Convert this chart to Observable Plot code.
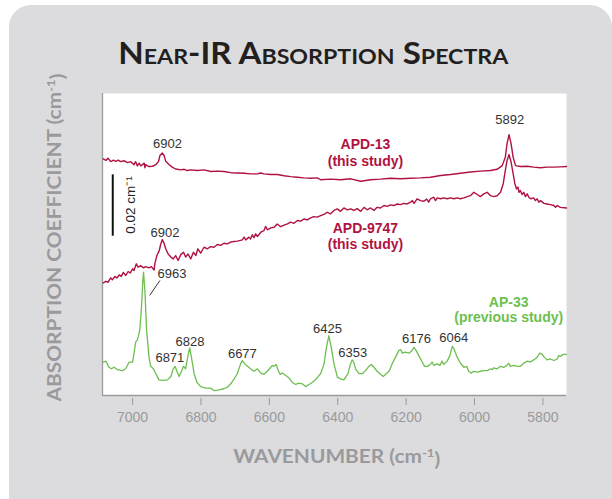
<!DOCTYPE html>
<html>
<head>
<meta charset="utf-8">
<script src="https://cdn.jsdelivr.net/npm/d3@7"></script>
<script src="https://cdn.jsdelivr.net/npm/@observablehq/plot@0.6"></script>
<style>
  html, body { margin: 0; padding: 0; background: #ffffff; }
  #wrap { position: relative; width: 612px; height: 499px; overflow: hidden; background: #ffffff; }
  #card { position: absolute; left: 9px; top: 5px; width: 603px; height: 560px; background: #dcdcde; border-radius: 22px; }
  #chart { position: absolute; left: 0; top: 0; }
</style>
</head>
<body>
<div id="wrap">
  <div id="card"></div>
  <div id="chart"></div>
</div>
<script>
// ---- data (wavenumber in cm^-1, absorption coefficient in cm^-1, spectra offset vertically) ----
const xTicks = [7000, 6800, 6600, 6400, 6200, 6000, 5800];

const apd13 = [
  [7086,0.0771],[7078,0.0766],[7072,0.0773],[7064,0.0762],[7056,0.0767],[7049,0.0763],[7042,0.0767],
  [7035,0.0762],[7025,0.0765],[7015,0.0759],[7005,0.0762],[6996,0.0752],[6991,0.0762],[6986,0.0748],
  [6981,0.0757],[6976,0.0748],[6966,0.0757],[6964,0.0742],[6962,0.0752],[6952,0.0746],[6942,0.0747],
  [6932,0.0752],[6924,0.0763],[6920,0.0782],[6913,0.0790],[6908,0.0782],[6903,0.0763],[6893,0.0752],
  [6884,0.0744],[6874,0.0738],[6859,0.0735],[6849,0.0737],[6840,0.0733],[6830,0.0735],[6810,0.0733],
  [6791,0.0735],[6771,0.0730],[6752,0.0731],[6733,0.0730],[6713,0.0726],[6694,0.0725],[6674,0.0724],
  [6655,0.0722],[6635,0.0722],[6625,0.0725],[6616,0.0722],[6596,0.0720],[6577,0.0720],[6557,0.0716],
  [6538,0.0713],[6518,0.0711],[6499,0.0709],[6479,0.0708],[6460,0.0709],[6450,0.0703],[6421,0.0705],
  [6392,0.0703],[6362,0.0706],[6333,0.0698],[6304,0.0703],[6275,0.0705],[6246,0.0708],[6216,0.0706],
  [6187,0.0708],[6158,0.0709],[6129,0.0711],[6099,0.0717],[6070,0.0720],[6041,0.0724],[6012,0.0728],
  [5983,0.0731],[5953,0.0733],[5934,0.0737],[5919,0.0749],[5910,0.0776],[5905,0.0820],[5899,0.0850],
  [5893,0.0820],[5887,0.0776],[5880,0.0749],[5866,0.0746],[5846,0.0747],[5827,0.0744],[5807,0.0742],
  [5788,0.0744],[5768,0.0744],[5749,0.0745],[5731,0.0746]
];

const apd9747 = [
  [7086,0.0367],[7078,0.0372],[7072,0.0369],[7064,0.0383],[7059,0.0377],[7052,0.0388],[7046,0.0383],
  [7039,0.0393],[7033,0.0388],[7027,0.0401],[7020,0.0391],[7013,0.0404],[7007,0.0399],[7000,0.0413],
  [6996,0.0407],[6989,0.0429],[6984,0.0418],[6976,0.0423],[6968,0.0416],[6962,0.0420],[6952,0.0416],
  [6945,0.0420],[6937,0.0409],[6935,0.0429],[6929,0.0456],[6922,0.0472],[6918,0.0492],[6913,0.0508],
  [6908,0.0496],[6903,0.0478],[6896,0.0461],[6888,0.0451],[6881,0.0445],[6874,0.0456],[6867,0.0440],
  [6859,0.0459],[6851,0.0467],[6845,0.0451],[6838,0.0461],[6830,0.0445],[6822,0.0467],[6815,0.0456],
  [6809,0.0478],[6801,0.0464],[6791,0.0483],[6781,0.0478],[6772,0.0485],[6762,0.0483],[6752,0.0492],
  [6742,0.0489],[6733,0.0496],[6723,0.0494],[6713,0.0500],[6703,0.0502],[6694,0.0503],[6679,0.0507],
  [6674,0.0516],[6669,0.0507],[6660,0.0516],[6655,0.0510],[6650,0.0524],[6645,0.0514],[6640,0.0527],
  [6635,0.0518],[6625,0.0532],[6616,0.0537],[6611,0.0551],[6606,0.0540],[6596,0.0546],[6586,0.0548],
  [6577,0.0559],[6567,0.0550],[6557,0.0555],[6547,0.0559],[6538,0.0565],[6528,0.0561],[6518,0.0570],
  [6508,0.0568],[6499,0.0575],[6489,0.0572],[6479,0.0579],[6470,0.0583],[6460,0.0581],[6450,0.0586],
  [6440,0.0590],[6431,0.0597],[6421,0.0592],[6411,0.0603],[6401,0.0608],[6392,0.0600],[6382,0.0611],
  [6372,0.0605],[6362,0.0608],[6353,0.0603],[6343,0.0609],[6333,0.0600],[6323,0.0613],[6314,0.0605],
  [6304,0.0611],[6294,0.0603],[6285,0.0613],[6275,0.0611],[6265,0.0619],[6255,0.0616],[6246,0.0621],
  [6236,0.0619],[6226,0.0624],[6216,0.0622],[6207,0.0626],[6197,0.0624],[6187,0.0630],[6182,0.0635],
  [6177,0.0626],[6168,0.0641],[6158,0.0635],[6148,0.0633],[6140,0.0640],[6134,0.0630],[6129,0.0641],
  [6119,0.0646],[6114,0.0635],[6109,0.0644],[6099,0.0641],[6090,0.0644],[6080,0.0641],[6070,0.0644],
  [6060,0.0641],[6051,0.0644],[6041,0.0641],[6031,0.0644],[6021,0.0648],[6012,0.0651],[6002,0.0662],
  [5992,0.0655],[5983,0.0648],[5973,0.0657],[5963,0.0662],[5953,0.0651],[5944,0.0648],[5934,0.0651],
  [5924,0.0662],[5916,0.0690],[5910,0.0733],[5905,0.0765],[5899,0.0785],[5893,0.0760],[5887,0.0722],
  [5882,0.0690],[5877,0.0673],[5873,0.0679],[5870,0.0662],[5866,0.0668],[5861,0.0655],[5856,0.0662],
  [5851,0.0648],[5846,0.0657],[5841,0.0646],[5836,0.0641],[5827,0.0644],[5822,0.0635],[5817,0.0641],
  [5812,0.0630],[5807,0.0635],[5797,0.0626],[5788,0.0624],[5778,0.0622],[5768,0.0619],[5763,0.0613],
  [5758,0.0619],[5749,0.0613],[5731,0.0611]
];

const ap33 = [
  [7086,0.0109],[7078,0.0112],[7069,0.0092],[7062,0.0087],[7054,0.0092],[7044,0.0084],[7030,0.0081],
  [7020,0.0087],[7010,0.0109],[7000,0.0109],[6996,0.0136],[6991,0.0174],[6986,0.0181],[6979,0.0212],
  [6974,0.0288],[6970,0.0375],[6968,0.0402],[6964,0.0342],[6959,0.0212],[6952,0.0125],[6947,0.0095],
  [6939,0.0087],[6932,0.0071],[6923,0.0051],[6913,0.0049],[6898,0.0051],[6888,0.0062],[6881,0.0087],
  [6876,0.0095],[6871,0.0081],[6864,0.0062],[6857,0.0079],[6851,0.0095],[6845,0.0087],[6838,0.0130],
  [6833,0.0155],[6828,0.0125],[6820,0.0071],[6812,0.0043],[6801,0.0029],[6786,0.0024],[6772,0.0024],
  [6762,0.0016],[6747,0.0018],[6733,0.0022],[6723,0.0027],[6713,0.0038],[6703,0.0054],[6694,0.0071],
  [6684,0.0103],[6679,0.0114],[6672,0.0103],[6664,0.0095],[6655,0.0087],[6645,0.0079],[6635,0.0087],
  [6625,0.0073],[6616,0.0069],[6606,0.0079],[6596,0.0092],[6591,0.0098],[6586,0.0095],[6580,0.0101],
  [6575,0.0084],[6569,0.0069],[6562,0.0073],[6552,0.0065],[6543,0.0058],[6533,0.0043],[6523,0.0036],
  [6513,0.0040],[6504,0.0038],[6494,0.0029],[6484,0.0036],[6474,0.0043],[6465,0.0051],[6455,0.0065],
  [6450,0.0071],[6440,0.0103],[6433,0.0157],[6426,0.0195],[6419,0.0157],[6411,0.0103],[6401,0.0060],
  [6392,0.0054],[6382,0.0051],[6377,0.0060],[6370,0.0071],[6364,0.0098],[6358,0.0116],[6353,0.0109],
  [6348,0.0087],[6338,0.0071],[6328,0.0071],[6319,0.0081],[6309,0.0095],[6302,0.0101],[6294,0.0092],
  [6285,0.0079],[6275,0.0069],[6267,0.0062],[6260,0.0069],[6250,0.0079],[6241,0.0103],[6231,0.0125],
  [6221,0.0147],[6216,0.0149],[6211,0.0138],[6202,0.0141],[6192,0.0138],[6185,0.0144],[6177,0.0157],
  [6171,0.0147],[6163,0.0130],[6153,0.0109],[6146,0.0095],[6138,0.0095],[6129,0.0101],[6124,0.0109],
  [6119,0.0098],[6109,0.0103],[6101,0.0098],[6095,0.0112],[6090,0.0101],[6080,0.0112],[6072,0.0130],
  [6065,0.0160],[6060,0.0152],[6051,0.0125],[6041,0.0105],[6031,0.0092],[6023,0.0095],[6017,0.0079],
  [6010,0.0073],[6002,0.0079],[5992,0.0076],[5983,0.0079],[5973,0.0081],[5963,0.0081],[5953,0.0087],
  [5948,0.0084],[5944,0.0090],[5934,0.0087],[5924,0.0095],[5914,0.0092],[5905,0.0098],[5900,0.0105],
  [5895,0.0095],[5885,0.0098],[5875,0.0095],[5866,0.0095],[5856,0.0105],[5846,0.0112],[5836,0.0109],
  [5827,0.0116],[5817,0.0125],[5809,0.0138],[5802,0.0134],[5796,0.0125],[5788,0.0116],[5778,0.0119],
  [5768,0.0114],[5758,0.0119],[5754,0.0130],[5749,0.0127],[5741,0.0134],[5731,0.0134]
];

// peak labels: text, wavenumber anchor, absorption anchor
const peakText = ["6902", "6902", "5892", "6963", "6871", "6828", "6677", "6425", "6353", "6176", "6064"];
const peakWn   = [6898, 6905, 5897, 6885, 6891, 6832, 6679, 6430, 6356, 6170, 6061];
const peakA    = [0.0820, 0.0530, 0.0899, 0.0396, 0.0123, 0.0176, 0.0136, 0.0218, 0.0138, 0.0185, 0.0187];

// series labels
const seriesText = ["APD-13", "(this study)", "APD-9747", "(this study)", "AP-33", "(previous study)"];
const seriesKey  = ["apd", "apd", "apd", "apd", "ap", "ap"];
const seriesWn   = [6319, 6319, 6319, 6319, 5900, 5900];
const seriesA    = [0.0818, 0.0762, 0.0545, 0.0492, 0.0304, 0.0253];

// leader line for 6963 label
const leader = [{wn1: 6920, a1: 0.0375, wn2: 6950, a2: 0.0326}];
// scale bar of 0.02 cm^-1
const scaleBar = {wn: 7058, a1: 0.0519, a2: 0.0719, labelWn: 7007, labelA: 0.0621, label: "0.02 cm⁻¹"};

const crimson = "#b01240";
const green = "#6dbf50";
const axisGray = "#9a9a9c";

const rows = arr => arr.map(([wn, a]) => ({wn, a}));
const peaks = peakText.map((t, i) => ({t, wn: peakWn[i], a: peakA[i]}));
const series = seriesText.map((t, i) => ({t, k: seriesKey[i], wn: seriesWn[i], a: seriesA[i]}));

const chart = Plot.plot({
  width: 612,
  height: 499,
  marginTop: 93,
  marginBottom: 104,
  marginLeft: 102,
  marginRight: 46,
  style: {background: "transparent", fontFamily: "'Liberation Sans', Arial, sans-serif", overflow: "visible"},
  x: {domain: [7088, 5731]},
  y: {domain: [0, 0.0984], axis: null},
  marks: [
    Plot.frame({fill: "white", stroke: "none"}),
    Plot.ruleX([7088], {stroke: axisGray, strokeWidth: 1.3}),
    Plot.ruleY([0], {stroke: axisGray, strokeWidth: 1.3}),
    Plot.axisX({ticks: xTicks, tickFormat: d => String(d), tickSize: 7, tickPadding: 7, dy: 3,
                fontSize: 14, color: axisGray, label: null}),
    Plot.line(rows(apd13), {x: "wn", y: "a", stroke: crimson, strokeWidth: 1.4}),
    Plot.line(rows(apd9747), {x: "wn", y: "a", stroke: crimson, strokeWidth: 1.4}),
    Plot.line(rows(ap33), {x: "wn", y: "a", stroke: green, strokeWidth: 1.3}),
    Plot.text(peaks, {x: "wn", y: "a", text: "t", fontSize: 13, fill: "#333"}),
    Plot.text(series, {x: "wn", y: "a", text: "t", fontSize: 14, fontWeight: "bold",
                       fill: d => d.k === "apd" ? crimson : green}),
    Plot.link(leader, {x1: "wn1", y1: "a1", x2: "wn2", y2: "a2", stroke: "#333", strokeWidth: 1}),
    Plot.ruleX([scaleBar], {x: "wn", y1: "a1", y2: "a2", stroke: "#111", strokeWidth: 2}),
    Plot.text([scaleBar], {x: "labelWn", y: "labelA", text: "label", rotate: -90, fontSize: 13.5, fill: "#222"})
  ]
});
document.getElementById("chart").appendChild(chart);

// titles, appended into the same SVG
const svg = d3.select(chart);
svg.append("text")
  .attr("x", 313.3).attr("y", 64.3)
  .attr("text-anchor", "middle")
  .attr("textLength", 390).attr("lengthAdjust", "spacingAndGlyphs")
  .style("font-family", "Lato, 'Open Sans', sans-serif")
  .style("font-weight", "700").style("font-size", "30px")
  .style("font-variant", "small-caps")
  .style("fill", "#231f20")
  .text("Near-IR Absorption Spectra");

function titleWithSup(sel, main) {
  sel.append("tspan").text(main + " (cm");
  sel.append("tspan").attr("dy", "-0.45em").style("font-size", "12px").text("-1");
  sel.append("tspan").attr("dy", "0.45em").text(")");
}
const xt = svg.append("text")
  .attr("x", 336.7).attr("y", 462.7)
  .attr("text-anchor", "middle")
  .attr("textLength", 207).attr("lengthAdjust", "spacingAndGlyphs")
  .style("font-family", "Lato, 'Open Sans', sans-serif")
  .style("font-weight", "700").style("font-size", "19px")
  .style("fill", "#9a9a9c");
titleWithSup(xt, "WAVENUMBER");

const yt = svg.append("text")
  .attr("transform", "translate(60.7,237.5) rotate(-90)")
  .attr("text-anchor", "middle")
  .attr("textLength", 328).attr("lengthAdjust", "spacingAndGlyphs")
  .style("font-family", "Lato, 'Open Sans', sans-serif")
  .style("font-weight", "700").style("font-size", "19px")
  .style("fill", "#9a9a9c");
titleWithSup(yt, "ABSORPTION COEFFICIENT");
</script>
</body>
</html>
